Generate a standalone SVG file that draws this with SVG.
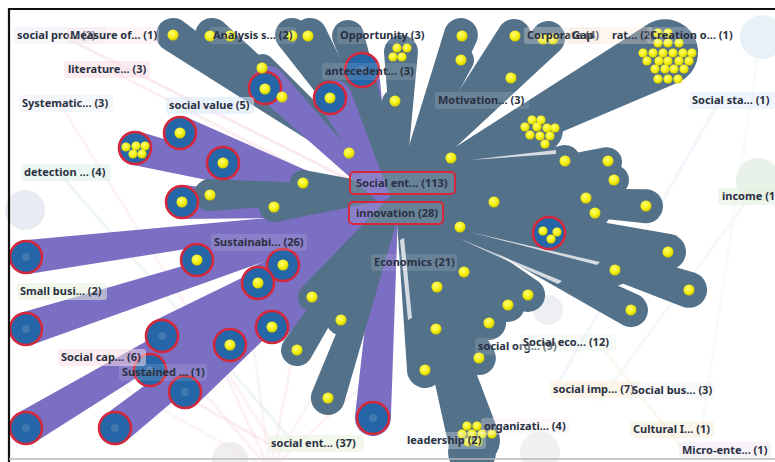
<svg xmlns="http://www.w3.org/2000/svg" xmlns:xlink="http://www.w3.org/1999/xlink" width="775" height="462" viewBox="0 0 775 462">
  <style>
    .lbl { font-family: "Noto Sans", "Open Sans", sans-serif; font-size: 11px; font-weight: bold; fill: #2a3142; }
    .bg { fill-opacity: 0.55; }
    .bg-dark { fill: #ffffff; fill-opacity: 0.12; }
    .hub { fill: none; stroke: #d6283a; stroke-width: 2; }
    .slate { fill: #54718a; }
    .purp { fill: #7a6fc2; }
    .item { fill: #2466a8; stroke: #d6283a; stroke-width: 2.5; }
    .core { fill: #5a88b4; fill-opacity: 0.55; }
    .faint line { stroke-width: 3; stroke-linecap: round; }
    .slit { fill: #ffffff; fill-opacity: 0.75; }
  </style>
  <defs>
    <radialGradient id="yg" cx="0.4" cy="0.35" r="0.7">
      <stop offset="0" stop-color="#ffff7a"/>
      <stop offset="0.6" stop-color="#f3ee0c"/>
      <stop offset="1" stop-color="#c9c200"/>
    </radialGradient>
    <circle id="dot" r="5.5" fill="url(#yg)"/>
    <circle id="sdot" r="4.6" fill="url(#yg)"/>
  </defs>

  <rect width="775" height="462" fill="#ffffff"/>

  <!-- pale background links and halos -->
  <g id="backdrop">
    <g class="faint" opacity="0.16">
      <line x1="60" y1="35" x2="390" y2="200" stroke="#e88aa8"/>
      <line x1="110" y1="70" x2="380" y2="210" stroke="#f0a0b8"/>
      <line x1="60" y1="104" x2="270" y2="440" stroke="#f3b0c4"/>
      <line x1="60" y1="174" x2="300" y2="450" stroke="#9fd4b0"/>
      <line x1="720" y1="100" x2="560" y2="380" stroke="#b8d4ee"/>
      <line x1="755" y1="190" x2="600" y2="400" stroke="#c8e8c0"/>
      <line x1="540" y1="36" x2="430" y2="120" stroke="#f5b080"/>
      <line x1="760" y1="40" x2="700" y2="440" stroke="#d6ecf0"/>
      <line x1="600" y1="345" x2="680" y2="445" stroke="#e8e0a0"/>
      <line x1="120" y1="360" x2="280" y2="450" stroke="#f0a0c0"/>
    </g>
    <g class="faint" opacity="0.22">
      <line x1="270" y1="470" x2="150" y2="330" stroke="#f2c8d4"/>
      <line x1="270" y1="470" x2="200" y2="320" stroke="#f2c8d4"/>
      <line x1="270" y1="470" x2="250" y2="320" stroke="#f5d4dc"/>
      <line x1="270" y1="470" x2="300" y2="320" stroke="#f2c8d4"/>
      <line x1="270" y1="470" x2="350" y2="330" stroke="#f5d4dc"/>
      <line x1="270" y1="470" x2="390" y2="360" stroke="#f2c8d4"/>
      <line x1="270" y1="470" x2="110" y2="380" stroke="#f5d4dc"/>
    </g>
    <circle cx="25" cy="210" r="20" fill="#dfe2ec" opacity="0.7"/>
    <circle cx="762" cy="37" r="22" fill="#e2eef2" opacity="0.8"/>
    <circle cx="758" cy="180" r="22" fill="#e2efe2" opacity="0.8"/>
    <circle cx="540" cy="452" r="20" fill="#e6e6e6" opacity="0.6"/>
    <circle cx="548" cy="310" r="15" fill="#e2e4ea" opacity="0.6"/>
    <circle cx="230" cy="460" r="18" fill="#e6e2e6" opacity="0.6"/>
  </g>

  <!-- connectors: tapered bands from the hub; purple to circled items, slate to dots -->
  <g id="connectors">
    <g class="purp">
      <path transform="translate(388 212) rotate(-100.4)" d="M0,-5 L144.4,-17 A17,17 0 1 1 144.4,17 L0,5 Z"/>
      <path transform="translate(388 212) rotate(-159.2)" d="M0,-5 L222.5,-17 A17,17 0 1 1 222.5,17 L0,5 Z"/>
      <path transform="translate(388 212) rotate(-165.8)" d="M0,-5 L261,-17 A17,17 0 1 1 261,17 L0,5 Z"/>
      <path transform="translate(388 212) rotate(-163.5)" d="M0,-5 L172.1,-17 A17,17 0 1 1 172.1,17 L0,5 Z"/>
      <path transform="translate(388 212) rotate(-177.2)" d="M0,-5 L206.2,-17 A17,17 0 1 1 206.2,17 L0,5 Z"/>
      <path transform="translate(388 212) rotate(172.9)" d="M0,-5 L364.8,-17 A17,17 0 1 1 364.8,17 L0,5 Z"/>
      <path transform="translate(388 212) rotate(165.9)" d="M0,-5 L196.9,-17 A17,17 0 1 1 196.9,17 L0,5 Z"/>
      <path transform="translate(388 212) rotate(153.2)" d="M0,-5 L117.6,-17 A17,17 0 1 1 117.6,17 L0,5 Z"/>
      <path transform="translate(388 212) rotate(151.4)" d="M0,-5 L148.1,-17 A17,17 0 1 1 148.1,17 L0,5 Z"/>
      <path transform="translate(388 212) rotate(162.1)" d="M0,-5 L380.4,-17 A17,17 0 1 1 380.4,17 L0,5 Z"/>
      <path transform="translate(388 212) rotate(151.3)" d="M0,-5 L257.8,-17 A17,17 0 1 1 257.8,17 L0,5 Z"/>
      <path transform="translate(388 212) rotate(135.2)" d="M0,-5 L163.3,-17 A17,17 0 1 1 163.3,17 L0,5 Z"/>
      <path transform="translate(388 212) rotate(139.9)" d="M0,-5 L206.5,-17 A17,17 0 1 1 206.5,17 L0,5 Z"/>
      <path transform="translate(388 212) rotate(146.4)" d="M0,-5 L285.7,-17 A17,17 0 1 1 285.7,17 L0,5 Z"/>
      <path transform="translate(388 212) rotate(138.4)" d="M0,-5 L271.3,-17 A17,17 0 1 1 271.3,17 L0,5 Z"/>
      <path transform="translate(388 212) rotate(149.2)" d="M0,-5 L421.5,-17 A17,17 0 1 1 421.5,17 L0,5 Z"/>
      <path transform="translate(388 212) rotate(141.6)" d="M0,-5 L348.1,-17 A17,17 0 1 1 348.1,17 L0,5 Z"/>
      <path transform="translate(388 212) rotate(94.2)" d="M0,-10 L206.5,-18 A18,18 0 1 1 206.5,18 L0,10 Z"/>
      <path transform="translate(388 212) rotate(7.4)" d="M0,-4 L162.4,-10 A10,10 0 1 1 162.4,10 L0,4 Z"/>
    </g>
    <g class="slate">
      <ellipse cx="428" cy="192" rx="46" ry="42"/>
      <path transform="translate(400 192) rotate(-145.3)" d="M0,-5 L276,-17 A17,17 0 1 1 276,17 L0,5 Z"/>
      <path transform="translate(400 192) rotate(-140.1)" d="M0,-5 L244.9,-17 A17,17 0 1 1 244.9,17 L0,5 Z"/>
      <path transform="translate(400 192) rotate(-124.5)" d="M0,-5 L190.6,-17 A17,17 0 1 1 190.6,17 L0,5 Z"/>
      <path transform="translate(400 192) rotate(-119.8)" d="M0,-5 L181,-17 A17,17 0 1 1 181,17 L0,5 Z"/>
      <path transform="translate(400 192) rotate(-138.1)" d="M0,-4 L185.5,-14 A14,14 0 1 1 185.5,14 L0,4 Z"/>
      <path transform="translate(400 192) rotate(-141.2)" d="M0,-4 L151.5,-14 A14,14 0 1 1 151.5,14 L0,4 Z"/>
      <path transform="translate(400 192) rotate(-108.4)" d="M0,-5 L164.4,-16 A16,16 0 1 1 164.4,16 L0,5 Z"/>
      <path transform="translate(400 192) rotate(-89.6)" d="M0,-5 L140,-17 A17,17 0 1 1 140,17 L0,5 Z"/>
      <path transform="translate(400 192) rotate(-93.2)" d="M0,-4 L90.1,-13 A13,13 0 1 1 90.1,13 L0,4 Z"/>
      <path transform="translate(400 192) rotate(-142.6)" d="M0,-4 L64.2,-14 A14,14 0 1 1 64.2,14 L0,4 Z"/>
      <path transform="translate(400 192) rotate(-68.8)" d="M0,-5 L168.4,-17 A17,17 0 1 1 168.4,17 L0,5 Z"/>
      <path transform="translate(400 192) rotate(-65.2)" d="M0,-4 L145.4,-13 A13,13 0 1 1 145.4,13 L0,4 Z"/>
      <path transform="translate(400 192) rotate(-53.8)" d="M0,-5 L193.2,-17 A17,17 0 1 1 193.2,17 L0,5 Z"/>
      <path transform="translate(400 192) rotate(-45.8)" d="M0,-4 L159.1,-13 A13,13 0 1 1 159.1,13 L0,4 Z"/>
      <path transform="translate(400 192) rotate(-46.1)" d="M0,-5 L213.6,-17 A17,17 0 1 1 213.6,17 L0,5 Z"/>
      <path transform="translate(400 192) rotate(-27.8)" d="M0,-8 L299.7,-33 A33,33 0 1 1 299.7,33 L0,8 Z"/>
      <path transform="translate(400 192) rotate(-23.9)" d="M0,-6 L153.1,-23 A23,23 0 1 1 153.1,23 L0,6 Z"/>
      <path transform="translate(400 192) rotate(-33.7)" d="M0,-4 L61.3,-13 A13,13 0 1 1 61.3,13 L0,4 Z"/>
      <path transform="translate(400 192) rotate(-11)" d="M0,-5 L168.1,-15 A15,15 0 1 1 168.1,15 L0,5 Z"/>
      <path transform="translate(400 192) rotate(-8.2)" d="M0,-5 L209.2,-15 A15,15 0 1 1 209.2,15 L0,5 Z"/>
      <path transform="translate(400 192) rotate(-3.2)" d="M0,-5 L214.3,-15 A15,15 0 1 1 214.3,15 L0,5 Z"/>
      <path transform="translate(400 192) rotate(6.1)" d="M0,-4 L94.5,-14 A14,14 0 1 1 94.5,14 L0,4 Z"/>
      <path transform="translate(400 192) rotate(1.8)" d="M0,-5 L186.1,-15 A15,15 0 1 1 186.1,15 L0,5 Z"/>
      <path transform="translate(400 192) rotate(6.1)" d="M0,-5 L196.1,-15 A15,15 0 1 1 196.1,15 L0,5 Z"/>
      <path transform="translate(400 192) rotate(3.3)" d="M0,-5 L246.4,-17 A17,17 0 1 1 246.4,17 L0,5 Z"/>
      <path transform="translate(400 192) rotate(30.3)" d="M0,-4 L69.5,-13 A13,13 0 1 1 69.5,13 L0,4 Z"/>
      <path transform="translate(400 192) rotate(12.6)" d="M0,-5 L274.6,-18 A18,18 0 1 1 274.6,18 L0,5 Z"/>
      <path transform="translate(400 192) rotate(19.9)" d="M0,-5 L228.7,-16 A16,16 0 1 1 228.7,16 L0,5 Z"/>
      <path transform="translate(400 192) rotate(18.7)" d="M0,-5 L305.2,-18 A18,18 0 1 1 305.2,18 L0,5 Z"/>
      <path transform="translate(400 192) rotate(27.1)" d="M0,-5 L259.4,-17 A17,17 0 1 1 259.4,17 L0,5 Z"/>
      <path transform="translate(400 192) rotate(51.3)" d="M0,-4 L102.4,-14 A14,14 0 1 1 102.4,14 L0,4 Z"/>
      <path transform="translate(400 192) rotate(68.7)" d="M0,-4 L101.9,-14 A14,14 0 1 1 101.9,14 L0,4 Z"/>
      <path transform="translate(400 192) rotate(38.8)" d="M0,-5 L164.3,-17 A17,17 0 1 1 164.3,17 L0,5 Z"/>
      <path transform="translate(400 192) rotate(46.3)" d="M0,-5 L156.3,-17 A17,17 0 1 1 156.3,17 L0,5 Z"/>
      <path transform="translate(400 192) rotate(55.8)" d="M0,-5 L158.4,-17 A17,17 0 1 1 158.4,17 L0,5 Z"/>
      <path transform="translate(400 192) rotate(75.4)" d="M0,-5 L142.6,-17 A17,17 0 1 1 142.6,17 L0,5 Z"/>
      <path transform="translate(400 192) rotate(64.6)" d="M0,-5 L183.8,-17 A17,17 0 1 1 183.8,17 L0,5 Z"/>
      <path transform="translate(400 192) rotate(82)" d="M0,-5 L179.7,-18 A18,18 0 1 1 179.7,18 L0,5 Z"/>
      <path transform="translate(400 192) rotate(73.4)" d="M0,-7 L258.8,-26 A26,26 0 1 1 258.8,26 L0,7 Z"/>
      <circle cx="472" cy="452" r="24"/>
      <path transform="translate(400 192) rotate(130)" d="M0,-4 L137,-14 A14,14 0 1 1 137,14 L0,4 Z"/>
      <path transform="translate(400 192) rotate(114.7)" d="M0,-5 L140.9,-15 A15,15 0 1 1 140.9,15 L0,5 Z"/>
      <path transform="translate(400 192) rotate(123.1)" d="M0,-5 L188.6,-16 A16,16 0 1 1 188.6,16 L0,5 Z"/>
      <path transform="translate(400 192) rotate(109.3)" d="M0,-5 L218.2,-17 A17,17 0 1 1 218.2,17 L0,5 Z"/>
      <path transform="translate(400 192) rotate(-174.7)" d="M0,-4 L97.4,-13 A13,13 0 1 1 97.4,13 L0,4 Z"/>
      <path transform="translate(400 192) rotate(179.1)" d="M0,-5 L190,-16 A16,16 0 1 1 190,16 L0,5 Z"/>
      <path transform="translate(400 192) rotate(173.2)" d="M0,-5 L126.9,-15 A15,15 0 1 1 126.9,15 L0,5 Z"/>
    </g>
    <!-- upper purple bands run over the slate fan -->
    <g class="purp">
      <path transform="translate(385 200) rotate(-134.8)" d="M0,-6 L165,-17 A17,17 0 1 1 165,17 L0,6 Z"/>
      <path transform="translate(385 200) rotate(-116)" d="M0,-6 L114,-17 A17,17 0 1 1 114,17 L0,6 Z"/>
    </g>
    <!-- thin gaps between neighbouring bands -->
    <g class="slit">
      <path d="M458,238 L562,281 L558,284 Z"/>
      <path d="M470,232 L600,262 L597,265 Z"/>
      <path d="M470,160 L556,150 L556,154 Z"/>
      <path d="M400,240 L404,238 L412,318 L408,320 Z"/>
    </g>
  </g>

  <!-- circled items -->
  <g id="n-circle-265-88"><circle class="item" cx="265" cy="88" r="16"/></g>
  <g id="n-circle-330-98"><circle class="item" cx="330" cy="98" r="16"/></g>
  <g id="n-circle-362-70"><circle class="item" cx="362" cy="70" r="17"/><circle class="core" cx="362" cy="70" r="4"/></g>
  <g id="n-circle-180-133"><circle class="item" cx="180" cy="133" r="16"/></g>
  <g id="n-circle-135-148"><circle class="item" cx="135" cy="148" r="16"/></g>
  <g id="n-circle-223-163"><circle class="item" cx="223" cy="163" r="16"/></g>
  <g id="n-circle-182-202"><circle class="item" cx="182" cy="202" r="16"/></g>
  <g id="n-circle-26-257"><circle class="item" cx="26" cy="257" r="16"/><circle class="core" cx="26" cy="257" r="4"/></g>
  <g id="n-circle-197-260"><circle class="item" cx="197" cy="260" r="16"/></g>
  <g id="n-circle-283-265"><circle class="item" cx="283" cy="265" r="16"/></g>
  <g id="n-circle-258-283"><circle class="item" cx="258" cy="283" r="16"/></g>
  <g id="n-circle-26-329"><circle class="item" cx="26" cy="329" r="16"/><circle class="core" cx="26" cy="329" r="4"/></g>
  <g id="n-circle-162-336"><circle class="item" cx="162" cy="336" r="16"/><circle class="core" cx="162" cy="336" r="4"/></g>
  <g id="n-circle-272-327"><circle class="item" cx="272" cy="327" r="16"/></g>
  <g id="n-circle-230-345"><circle class="item" cx="230" cy="345" r="16"/></g>
  <g id="n-circle-150-370"><circle class="item" cx="150" cy="370" r="16"/><circle class="core" cx="150" cy="370" r="4"/></g>
  <g id="n-circle-185-392"><circle class="item" cx="185" cy="392" r="16"/><circle class="core" cx="185" cy="392" r="4"/></g>
  <g id="n-circle-26-428"><circle class="item" cx="26" cy="428" r="16"/><circle class="core" cx="26" cy="428" r="4"/></g>
  <g id="n-circle-115-428"><circle class="item" cx="115" cy="428" r="16"/><circle class="core" cx="115" cy="428" r="4"/></g>
  <g id="n-circle-373-418"><circle class="item" cx="373" cy="418" r="16"/><circle class="core" cx="373" cy="418" r="4"/></g>
  <g id="n-circle-549-233"><circle class="item" cx="549" cy="233" r="16"/></g>

  <!-- document dots -->
  <g id="dots-upper">
    <use xlink:href="#dot" x="173" y="35"/>
    <use xlink:href="#dot" x="210" y="36"/>
    <use xlink:href="#dot" x="230" y="36"/>
    <use xlink:href="#dot" x="292" y="36"/>
    <use xlink:href="#dot" x="308" y="36"/>
    <use xlink:href="#dot" x="262" y="68"/>
    <use xlink:href="#dot" x="265" y="89"/>
    <use xlink:href="#dot" x="282" y="97"/>
    <use xlink:href="#dot" x="330" y="98"/>
    <use xlink:href="#dot" x="395" y="101"/>
    <use xlink:href="#dot" x="349" y="153"/>
    <use xlink:href="#sdot" x="397" y="48"/>
    <use xlink:href="#sdot" x="407" y="48"/>
    <use xlink:href="#sdot" x="393" y="57"/>
    <use xlink:href="#sdot" x="402" y="57"/>
    <use xlink:href="#dot" x="462" y="36"/>
    <use xlink:href="#dot" x="461" y="60"/>
    <use xlink:href="#dot" x="515" y="36"/>
    <use xlink:href="#dot" x="511" y="78"/>
    <use xlink:href="#dot" x="543" y="39"/>
    <use xlink:href="#dot" x="553" y="39"/>
    <use xlink:href="#dot" x="451" y="158"/>
  </g>
  <g id="dots-cluster-large">
    <use xlink:href="#sdot" x="658" y="33"/>
    <use xlink:href="#sdot" x="668" y="33"/>
    <use xlink:href="#sdot" x="658" y="43"/>
    <use xlink:href="#sdot" x="668" y="43"/>
    <use xlink:href="#sdot" x="679" y="43"/>
    <use xlink:href="#sdot" x="643" y="53"/>
    <use xlink:href="#sdot" x="653" y="53"/>
    <use xlink:href="#sdot" x="663" y="53"/>
    <use xlink:href="#sdot" x="673" y="53"/>
    <use xlink:href="#sdot" x="683" y="53"/>
    <use xlink:href="#sdot" x="692" y="53"/>
    <use xlink:href="#sdot" x="647" y="61"/>
    <use xlink:href="#sdot" x="659" y="61"/>
    <use xlink:href="#sdot" x="668" y="61"/>
    <use xlink:href="#sdot" x="679" y="61"/>
    <use xlink:href="#sdot" x="689" y="61"/>
    <use xlink:href="#sdot" x="655" y="69"/>
    <use xlink:href="#sdot" x="665" y="69"/>
    <use xlink:href="#sdot" x="674" y="69"/>
    <use xlink:href="#sdot" x="684" y="69"/>
    <use xlink:href="#sdot" x="658" y="79"/>
    <use xlink:href="#sdot" x="668" y="79"/>
    <use xlink:href="#sdot" x="678" y="79"/>
  </g>
  <g id="dots-cluster-mid">
    <use xlink:href="#sdot" x="532" y="120"/>
    <use xlink:href="#sdot" x="541" y="120"/>
    <use xlink:href="#sdot" x="525" y="127"/>
    <use xlink:href="#sdot" x="537" y="127"/>
    <use xlink:href="#sdot" x="547" y="128"/>
    <use xlink:href="#sdot" x="555" y="128"/>
    <use xlink:href="#sdot" x="530" y="135"/>
    <use xlink:href="#sdot" x="540" y="136"/>
    <use xlink:href="#sdot" x="550" y="136"/>
    <use xlink:href="#sdot" x="545" y="144"/>
  </g>
  <g id="dots-right">
    <use xlink:href="#dot" x="565" y="161"/>
    <use xlink:href="#dot" x="608" y="161"/>
    <use xlink:href="#dot" x="614" y="180"/>
    <use xlink:href="#dot" x="494" y="202"/>
    <use xlink:href="#dot" x="586" y="198"/>
    <use xlink:href="#dot" x="595" y="213"/>
    <use xlink:href="#dot" x="646" y="206"/>
    <use xlink:href="#dot" x="460" y="227"/>
    <use xlink:href="#sdot" x="543" y="231"/>
    <use xlink:href="#sdot" x="557" y="232"/>
    <use xlink:href="#sdot" x="551" y="239"/>
    <use xlink:href="#dot" x="668" y="252"/>
    <use xlink:href="#dot" x="615" y="270"/>
    <use xlink:href="#dot" x="689" y="290"/>
    <use xlink:href="#dot" x="631" y="310"/>
  </g>
  <g id="dots-lower">
    <use xlink:href="#dot" x="464" y="272"/>
    <use xlink:href="#dot" x="437" y="287"/>
    <use xlink:href="#dot" x="528" y="295"/>
    <use xlink:href="#dot" x="508" y="305"/>
    <use xlink:href="#dot" x="489" y="323"/>
    <use xlink:href="#dot" x="436" y="329"/>
    <use xlink:href="#dot" x="479" y="358"/>
    <use xlink:href="#dot" x="425" y="370"/>
    <use xlink:href="#sdot" x="467" y="426"/>
    <use xlink:href="#sdot" x="477" y="426"/>
    <use xlink:href="#sdot" x="462" y="434"/>
    <use xlink:href="#sdot" x="472" y="434"/>
    <use xlink:href="#sdot" x="482" y="434"/>
    <use xlink:href="#sdot" x="492" y="434"/>
    <use xlink:href="#sdot" x="468" y="442"/>
    <use xlink:href="#sdot" x="478" y="442"/>
  </g>
  <g id="dots-left">
    <use xlink:href="#dot" x="180" y="133"/>
    <use xlink:href="#sdot" x="126" y="147"/>
    <use xlink:href="#sdot" x="136" y="146"/>
    <use xlink:href="#sdot" x="145" y="146"/>
    <use xlink:href="#sdot" x="133" y="154"/>
    <use xlink:href="#sdot" x="142" y="154"/>
    <use xlink:href="#dot" x="223" y="163"/>
    <use xlink:href="#dot" x="182" y="202"/>
    <use xlink:href="#dot" x="303" y="183"/>
    <use xlink:href="#dot" x="210" y="195"/>
    <use xlink:href="#dot" x="274" y="207"/>
    <use xlink:href="#dot" x="197" y="260"/>
    <use xlink:href="#dot" x="283" y="265"/>
    <use xlink:href="#dot" x="258" y="283"/>
    <use xlink:href="#dot" x="272" y="327"/>
    <use xlink:href="#dot" x="230" y="345"/>
    <use xlink:href="#dot" x="312" y="297"/>
    <use xlink:href="#dot" x="341" y="320"/>
    <use xlink:href="#dot" x="297" y="350"/>
    <use xlink:href="#dot" x="328" y="398"/>
  </g>

  <!-- topic labels -->
  <g id="n-social-pro"><rect class="bg" style="fill:#eceef6" x="14" y="27" width="92" height="17" rx="3"/><text class="lbl" x="17" y="39">social pro... (2)</text></g>
  <g id="n-measure"><rect class="bg" style="fill:#f8e2ea;fill-opacity:.35" x="67" y="27" width="92" height="17" rx="3"/><text class="lbl" x="70" y="39">Measure of... (1)</text></g>
  <g id="n-analysis"><rect class="bg-dark" x="210" y="27" width="86" height="17" rx="3"/><text class="lbl" x="213" y="39">Analysis s... (2)</text></g>
  <g id="n-opportunity"><rect class="bg-dark" x="337" y="27" width="88" height="17" rx="3"/><text class="lbl" x="340" y="39">Opportunity (3)</text></g>
  <g id="n-corporate"><rect class="bg" style="fill:#f0e8e4;fill-opacity:.3" x="524" y="27" width="76" height="17" rx="3"/><text class="lbl" x="527" y="39">Corporate (4)</text></g>
  <g id="n-gap"><rect class="bg" style="fill:#f8e0d0;fill-opacity:.3" x="569" y="27" width="84" height="17" rx="3"/><text class="lbl" x="572" y="39">Gap</text><text class="lbl" x="612" y="39">rat... (2)</text></g>
  <g id="n-creation"><rect class="bg" style="fill:#ffffff;fill-opacity:.2" x="647" y="27" width="90" height="17" rx="3"/><text class="lbl" x="650" y="39">Creation o... (1)</text></g>
  <g id="n-literature"><rect class="bg" style="fill:#f8dce4" x="64" y="61" width="86" height="17" rx="3"/><text class="lbl" x="68" y="73">literature... (3)</text></g>
  <g id="n-antecedent"><rect class="bg-dark" x="322" y="63" width="94" height="17" rx="3"/><text class="lbl" x="325" y="75">antecedent... (3)</text></g>
  <g id="n-systematic"><rect class="bg" style="fill:#eceef4" x="19" y="95" width="94" height="17" rx="3"/><text class="lbl" x="22" y="107">Systematic... (3)</text></g>
  <g id="n-social-value"><rect class="bg" style="fill:#dbeaf6" x="166" y="97" width="88" height="17" rx="3"/><text class="lbl" x="169" y="109">social value (5)</text></g>
  <g id="n-motivation"><rect class="bg-dark" x="435" y="92" width="94" height="17" rx="3"/><text class="lbl" x="438" y="104">Motivation... (3)</text></g>
  <g id="n-social-sta"><rect class="bg" style="fill:#e2ecf6" x="689" y="92" width="86" height="17" rx="3"/><text class="lbl" x="692" y="104">Social sta... (1)</text></g>
  <g id="n-detection"><rect class="bg" style="fill:#dcefe8" x="21" y="164" width="90" height="17" rx="3"/><text class="lbl" x="24" y="176">detection ... (4)</text></g>
  <g id="n-social-ent-113"><rect class="bg-dark" x="350" y="172" width="105" height="22" rx="4"/><rect class="hub" x="350" y="172" width="105" height="22" rx="4"/><text class="lbl" x="356" y="187">Social ent... (113)</text></g>
  <g id="n-innovation"><rect class="bg-dark" x="349" y="202" width="94" height="22" rx="4"/><rect class="hub" x="349" y="202" width="94" height="22" rx="4"/><text class="lbl" x="356" y="217">innovation (28)</text></g>
  <g id="n-income"><rect class="bg" style="fill:#e4f0e0" x="718" y="188" width="60" height="17" rx="3"/><text class="lbl" x="722" y="200">income (1)</text></g>
  <g id="n-sustainabi"><rect class="bg-dark" x="211" y="234" width="96" height="17" rx="3"/><text class="lbl" x="214" y="246">Sustainabi... (26)</text></g>
  <g id="n-economics"><rect class="bg-dark" x="371" y="254" width="86" height="17" rx="3"/><text class="lbl" x="374" y="266">Economics (21)</text></g>
  <g id="n-small-busi"><rect class="bg" style="fill:#e6f0dc" x="17" y="283" width="90" height="17" rx="3"/><text class="lbl" x="20" y="295">Small busi... (2)</text></g>
  <g id="n-social-cap"><rect class="bg" style="fill:#f8dce8" x="58" y="349" width="88" height="17" rx="3"/><text class="lbl" x="61" y="361">Social cap... (6)</text></g>
  <g id="n-sustained"><rect class="bg-dark" x="119" y="364" width="88" height="17" rx="3"/><text class="lbl" x="122" y="376">Sustained ... (1)</text></g>
  <g id="n-social-org"><rect class="bg-dark" x="475" y="338" width="88" height="17" rx="3"/><text class="lbl" x="478" y="350">social org... (9)</text></g>
  <g id="n-social-eco"><rect class="bg" style="fill:#e4f2e4;fill-opacity:.35" x="520" y="334" width="96" height="17" rx="3"/><text class="lbl" x="523" y="346">Social eco... (12)</text></g>
  <g id="n-social-imp"><rect class="bg" style="fill:#f8ecd8" x="550" y="381" width="90" height="17" rx="3"/><text class="lbl" x="553" y="393">social imp... (7)</text></g>
  <g id="n-social-bus"><rect class="bg" style="fill:#eceef4;fill-opacity:.35" x="629" y="382" width="86" height="17" rx="3"/><text class="lbl" x="632" y="394">Social bus... (3)</text></g>
  <g id="n-organizati"><rect class="bg" style="fill:#f6e4ec;fill-opacity:.3" x="481" y="418" width="88" height="17" rx="3"/><text class="lbl" x="484" y="430">organizati... (4)</text></g>
  <g id="n-leadership"><rect class="bg" style="fill:#eceef4;fill-opacity:.3" x="404" y="432" width="82" height="17" rx="3"/><text class="lbl" x="407" y="444">leadership (2)</text></g>
  <g id="n-cultural"><rect class="bg" style="fill:#f6ecd8" x="630" y="421" width="84" height="17" rx="3"/><text class="lbl" x="633" y="433">Cultural I... (1)</text></g>
  <g id="n-social-ent-37"><rect class="bg" style="fill:#e8f2dc" x="268" y="435" width="96" height="17" rx="3"/><text class="lbl" x="271" y="447">social ent... (37)</text></g>
  <g id="n-micro-ente"><rect class="bg" style="fill:#f0e6f2" x="679" y="442" width="92" height="17" rx="3"/><text class="lbl" x="682" y="454">Micro-ente... (1)</text></g>

  <!-- panel frame -->
  <g id="frame" fill="none">
    <line x1="8" y1="9" x2="775" y2="9" stroke="#111111" stroke-width="2.2"/>
    <line x1="9" y1="8" x2="9" y2="462" stroke="#111111" stroke-width="2.2"/>
    <line x1="9" y1="459" x2="775" y2="459" stroke="#b8b8b8" stroke-width="1.5"/>
  </g>
</svg>
